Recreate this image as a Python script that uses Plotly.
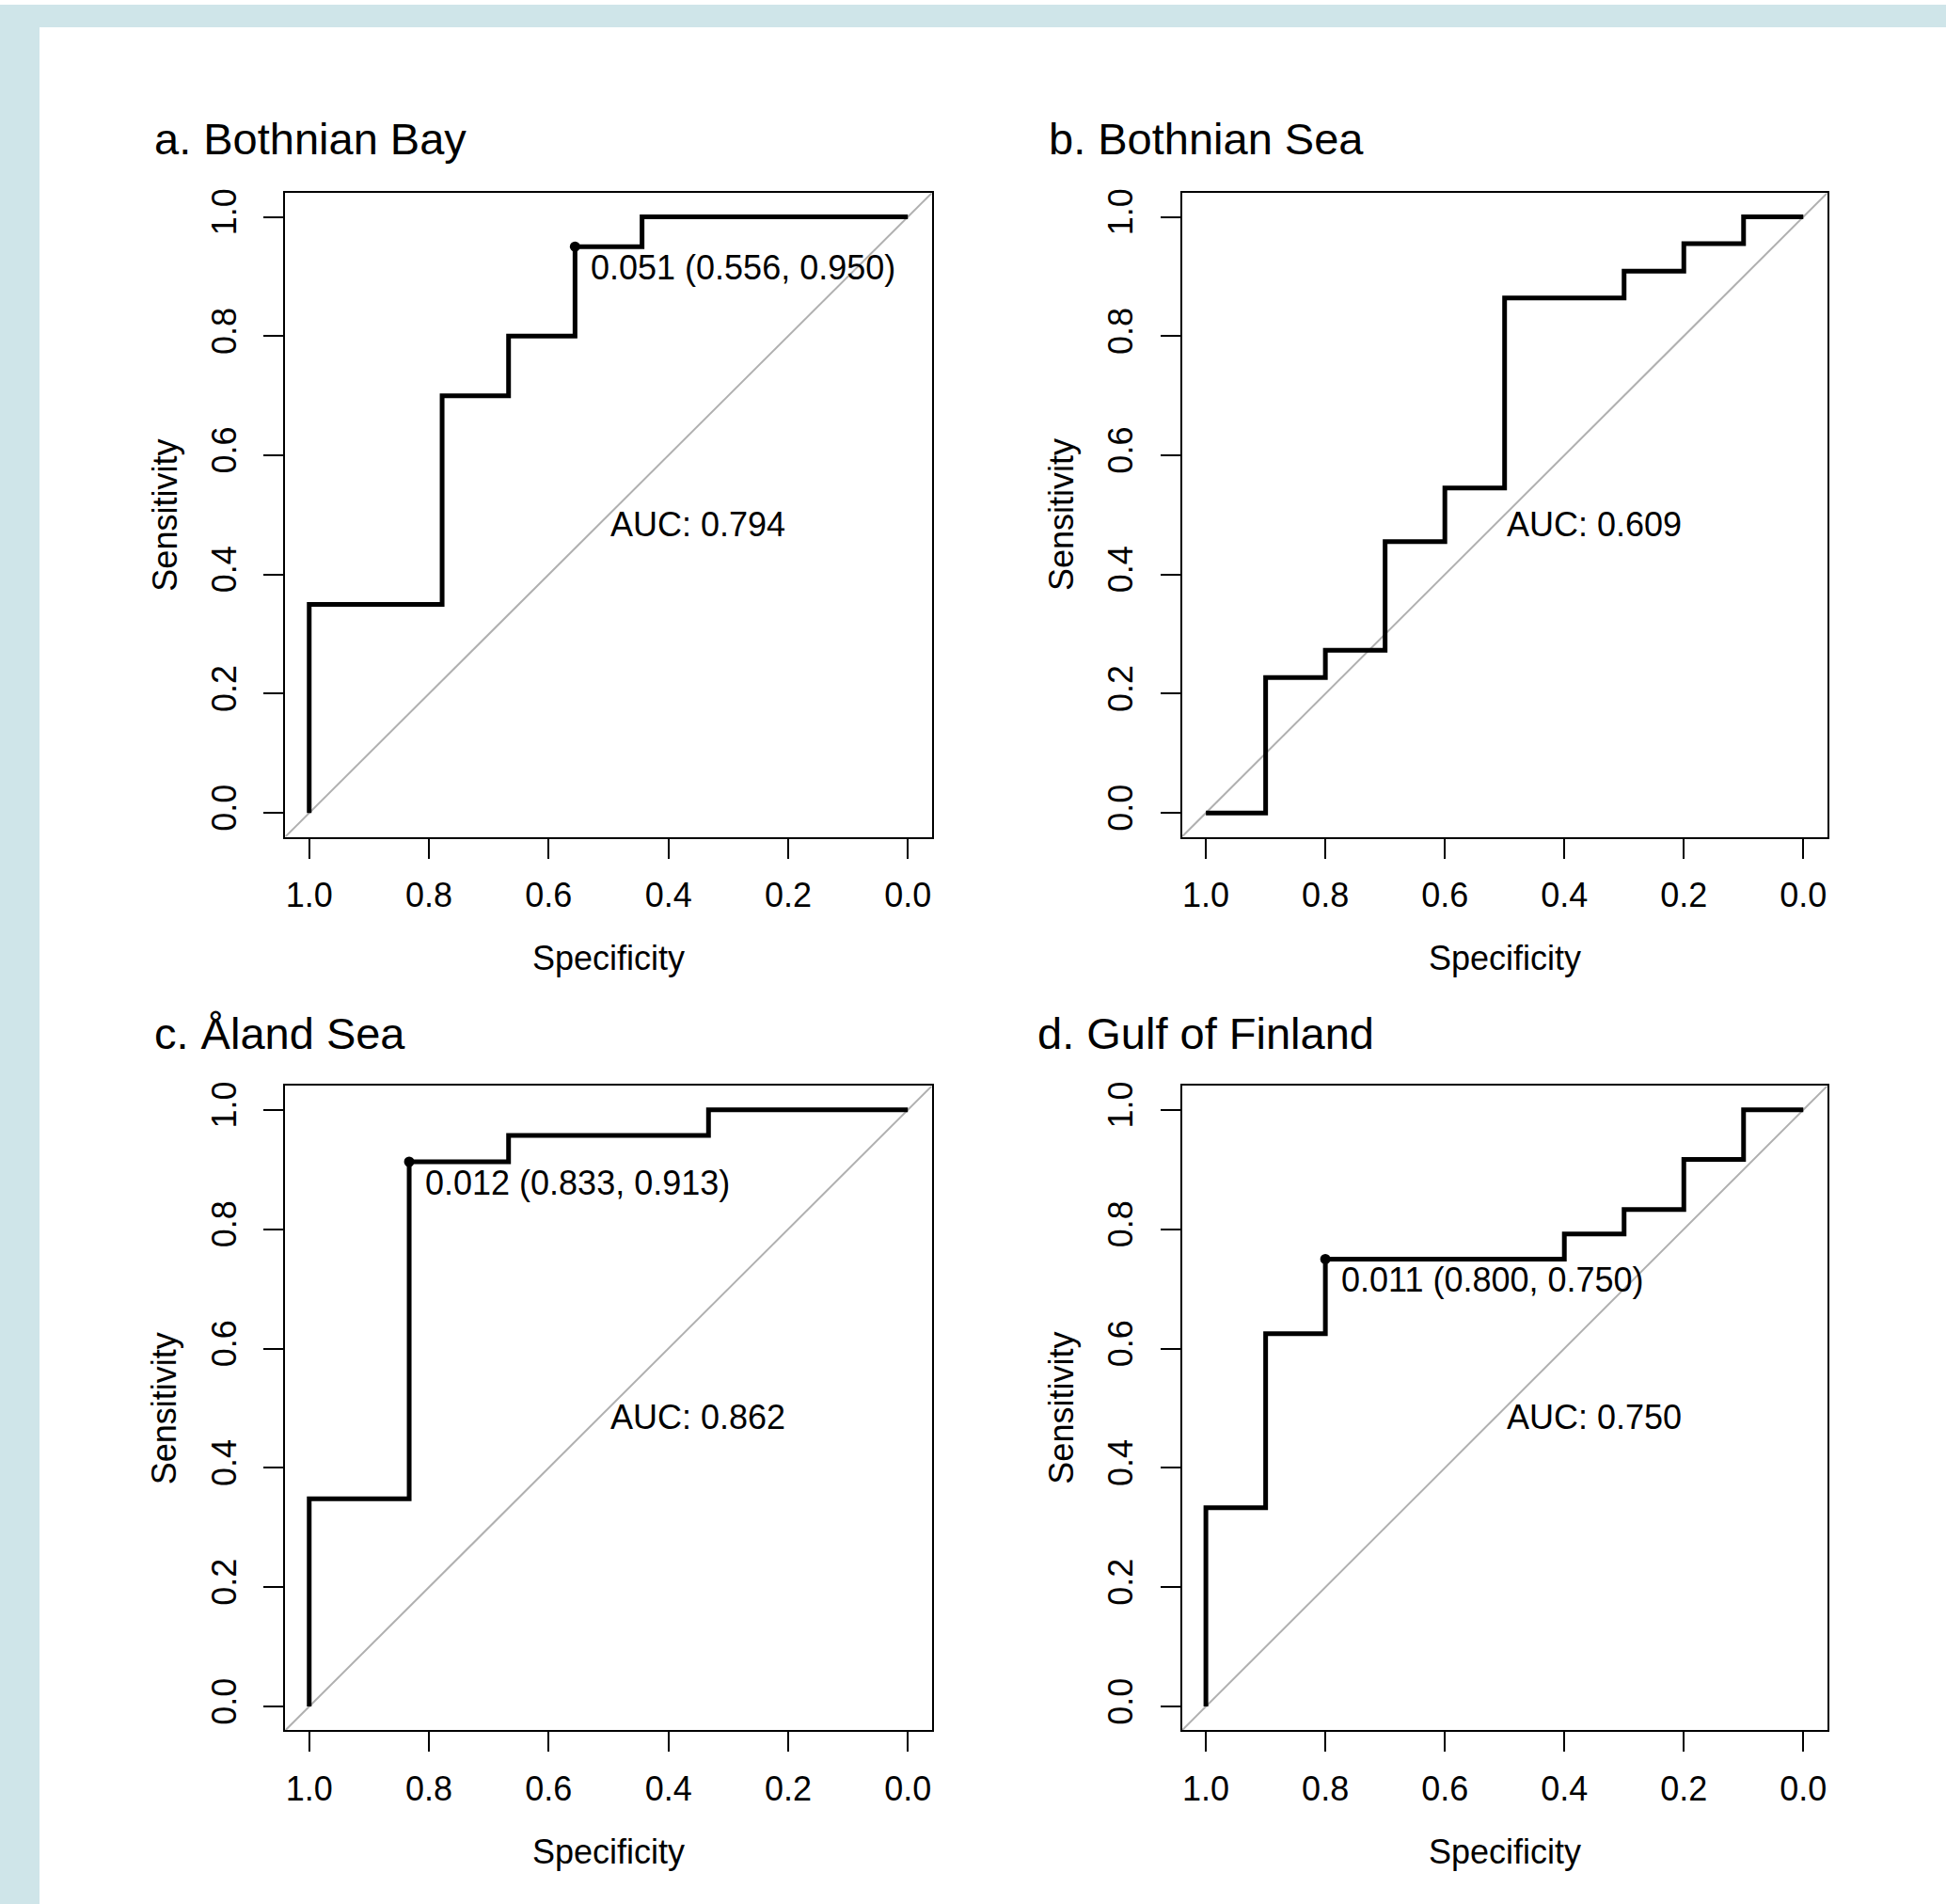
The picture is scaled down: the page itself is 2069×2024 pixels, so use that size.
import plotly.graph_objects as go

W, H = 2069, 2024

# ---------------- data ----------------
titles = ["a. Bothnian Bay", "b. Bothnian Sea", "c. Åland Sea", "d. Gulf of Finland"]

spec_a = [1.0, 1.0, 0.778, 0.778, 0.667, 0.667, 0.556, 0.556, 0.444, 0.444, 0.0]
sens_a = [0.0, 0.35, 0.35, 0.70, 0.70, 0.80, 0.80, 0.95, 0.95, 1.0, 1.0]

spec_b = [1.0, 0.9, 0.9, 0.8, 0.8, 0.7, 0.7, 0.6, 0.6, 0.5, 0.5, 0.3, 0.3, 0.2, 0.2, 0.1, 0.1, 0.0]
sens_b = [0.0, 0.0, 0.227, 0.227, 0.273, 0.273, 0.455, 0.455, 0.545, 0.545, 0.864, 0.864,
          0.909, 0.909, 0.955, 0.955, 1.0, 1.0]

spec_c = [1.0, 1.0, 0.833, 0.833, 0.667, 0.667, 0.333, 0.333, 0.0]
sens_c = [0.0, 0.348, 0.348, 0.913, 0.913, 0.957, 0.957, 1.0, 1.0]

spec_d = [1.0, 1.0, 0.9, 0.9, 0.8, 0.8, 0.4, 0.4, 0.3, 0.3, 0.2, 0.2, 0.1, 0.1, 0.0]
sens_d = [0.0, 0.333, 0.333, 0.625, 0.625, 0.75, 0.75, 0.792, 0.792, 0.833, 0.833,
          0.917, 0.917, 1.0, 1.0]

auc_values = [0.794, 0.609, 0.862, 0.750]

# best threshold (None where not printed)
thr_value = [0.051, None, 0.012, 0.011]
thr_spec = [0.556, None, 0.833, 0.800]
thr_sens = [0.950, None, 0.913, 0.750]

tick_vals = [1.0, 0.8, 0.6, 0.4, 0.2, 0.0]
tick_text = ["1.0", "0.8", "0.6", "0.4", "0.2", "0.0"]
diag_spec = [1.04, -0.04]
diag_sens = [-0.04, 1.04]

specs = [spec_a, spec_b, spec_c, spec_d]
senss = [sens_a, sens_b, sens_c, sens_d]

# ---------------- layout geometry (pixels) ----------------
FONT = "Liberation Sans, Arial, sans-serif"
TICK_FS = 36
TITLE_FS = 47
boxes = [  # left, top, right, bottom
    (303.3, 200.7, 990.7, 886.7),
    (1256.7, 200.7, 1942.7, 886.7),
    (303.3, 1152.3, 990.7, 1839.0),
    (1256.7, 1152.3, 1942.7, 1839.0),
]
title_pos = [(162, 143), (1113, 143), (162, 1096), (1101, 1096)]


def px(x):
    return x / W


def py(y):
    return 1 - y / H


fig = go.Figure()
annotations = []
layout_axes = {}

for i in range(4):
    n = "" if i == 0 else str(i + 1)
    xa, ya = "x" + n, "y" + n
    l, t, r, b = boxes[i]

    fig.add_trace(go.Scatter(x=diag_spec, y=diag_sens, mode="lines",
                             line=dict(color="#b0b0b0", width=2),
                             xaxis=xa, yaxis=ya, showlegend=False, hoverinfo="skip"))
    fig.add_trace(go.Scatter(x=specs[i], y=senss[i], mode="lines",
                             line=dict(color="black", width=5),
                             xaxis=xa, yaxis=ya, showlegend=False))
    if thr_value[i] is not None:
        fig.add_trace(go.Scatter(x=[thr_spec[i]], y=[thr_sens[i]], mode="markers",
                                 marker=dict(color="black", size=11),
                                 xaxis=xa, yaxis=ya, showlegend=False))
        annotations.append(dict(
            x=thr_spec[i], y=thr_sens[i], xref=xa, yref=ya,
            text=f"{thr_value[i]:.3f} ({thr_spec[i]:.3f}, {thr_sens[i]:.3f})",
            showarrow=False, xanchor="left", yanchor="middle",
            xshift=15, yshift=-22, font=dict(size=TICK_FS, family=FONT, color="black")))
    annotations.append(dict(
        x=0.5, y=0.5, xref=xa, yref=ya, text=f"AUC: {auc_values[i]:.3f}",
        showarrow=False, xanchor="left", yanchor="middle", yshift=-10,
        font=dict(size=TICK_FS, family=FONT, color="black")))

    axis_common = dict(
        showgrid=False, zeroline=False, showline=True, mirror=True,
        linecolor="black", linewidth=2, ticks="outside", ticklen=21,
        tickwidth=2, tickcolor="black", tickvals=tick_vals, ticktext=tick_text,
        tickfont=dict(size=TICK_FS, family=FONT, color="black"))
    layout_axes["xaxis" + n] = dict(axis_common, domain=[px(l), px(r)],
                                    range=[1.04, -0.04], anchor=ya,
                                    ticklabelstandoff=8)
    layout_axes["yaxis" + n] = dict(axis_common, domain=[py(b), py(t)],
                                    range=[-0.04, 1.04], anchor=xa, tickangle=-90,
                                    ticklabelstandoff=15)

    # axis titles
    annotations.append(dict(x=px((l + r) / 2), y=py(b + 129), xref="paper", yref="paper",
                            text="Specificity", showarrow=False, xanchor="center",
                            yanchor="middle",
                            font=dict(size=TICK_FS, family=FONT, color="black")))
    annotations.append(dict(x=px(l - 128), y=py((t + b) / 2), xref="paper", yref="paper",
                            text="Sensitivity", showarrow=False, textangle=-90,
                            xanchor="center", yanchor="middle",
                            font=dict(size=TICK_FS, family=FONT, color="black")))
    # panel title
    tx, ty = title_pos[i]
    annotations.append(dict(x=px(tx), y=py(ty), xref="paper", yref="paper",
                            text=titles[i], showarrow=False, xanchor="left",
                            yanchor="middle",
                            font=dict(size=TITLE_FS, family=FONT, color="black")))

shapes = [
    dict(type="rect", xref="paper", yref="paper", x0=0, x1=1, y0=py(24), y1=1,
         fillcolor="#cfe5e9", line=dict(width=0), layer="below"),
    dict(type="rect", xref="paper", yref="paper", x0=0, x1=px(42), y0=0, y1=1,
         fillcolor="#cfe5e9", line=dict(width=0), layer="below"),
]

fig.update_layout(
    width=W, height=H, margin=dict(l=0, r=0, t=0, b=0),
    paper_bgcolor="white", plot_bgcolor="white",
    font=dict(family=FONT, color="black"),
    annotations=annotations, shapes=shapes, showlegend=False,
    **layout_axes)

fig.write_html("out.html",
               config={"displayModeBar": False},
               post_script="document.body.style.margin='0';"
                           "document.body.style.overflow='hidden';")
